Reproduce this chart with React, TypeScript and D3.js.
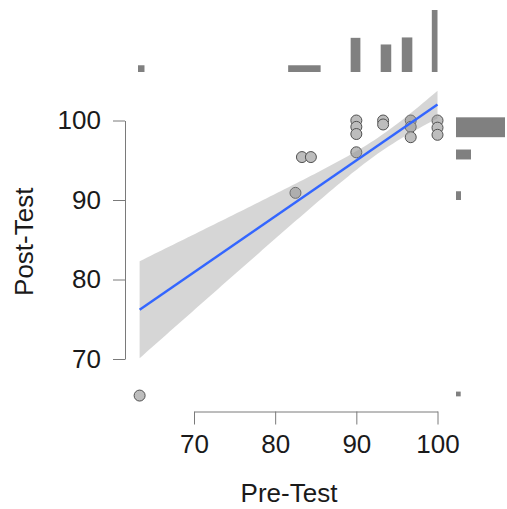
import React, { useEffect, useRef } from 'react';
import * as d3 from 'd3';

// scatter points
const preScores = [63.3, 82.5, 83.3, 84.4, 90, 90, 90, 90, 93.3, 93.3, 96.7, 96.7, 96.7, 100, 100, 100];
const postScores = [65.4, 90.9, 95.4, 95.4, 100, 99.2, 98.3, 96.0, 100, 99.5, 100, 99.2, 97.9, 100, 99.1, 98.2];

// fitted line (ends of the smooth)
const fitX = [63.3, 100];
const fitY = [76.2, 102.0];
// half width of the confidence band: at the left end, and the narrowest point
const bandLeftHalf = 6.1;
const bandMinHalf = 1.0;
const bandMinX = 93;

// marginal histogram on top: [from, to, density]
const topBins: [number, number, number][] = [
  [63.1, 63.9, 0.067],
  [81.6, 85.6, 0.067],
  [89.3, 90.5, 0.34],
  [93.0, 94.3, 0.274],
  [95.6, 96.9, 0.344],
  [99.3, 100.0, 0.617],
];
// marginal histogram on the right: [from, to, density]
const rightBins: [number, number, number][] = [
  [97.9, 100.4, 0.49],
  [95.1, 96.35, 0.15],
  [90.0, 91.1, 0.05],
  [65.3, 65.9, 0.047],
];

const xTicks = [70, 80, 90, 100];
const yTicks = [70, 80, 90, 100];

const W = 507;
const H = 509;
const font = "'Liberation Sans', Arial, Helvetica, sans-serif";

const App = () => {
  const svgRef = useRef<SVGSVGElement>(null);

  useEffect(() => {
    const svg = d3.select(svgRef.current);
    svg.selectAll('*').remove();

    const x = d3.scaleLinear().domain([70, 100]).range([194, 437.5]);
    const y = d3.scaleLinear().domain([70, 100]).range([359, 120.5]);
    const panelTop = 72;
    const panelRight = 453;
    const axisY = 411.5;
    const axisX = 125;

    // top marginal
    const yTop = d3.scaleLinear().domain([0, 0.617]).range([panelTop, 10]);
    svg.append('g')
      .selectAll('rect')
      .data(topBins)
      .enter()
      .append('rect')
      .attr('x', d => x(d[0]))
      .attr('width', d => x(d[1]) - x(d[0]))
      .attr('y', d => yTop(d[2]))
      .attr('height', d => yTop(0) - yTop(d[2]))
      .attr('fill', '#808080');

    // right marginal
    const xRight = d3.scaleLinear().domain([0, 0.49]).range([456, 505]);
    svg.append('g')
      .selectAll('rect')
      .data(rightBins)
      .enter()
      .append('rect')
      .attr('x', xRight(0))
      .attr('width', d => xRight(d[2]) - xRight(0))
      .attr('y', d => y(d[1]))
      .attr('height', d => y(d[0]) - y(d[1]))
      .attr('fill', '#808080');

    // points
    const pts = preScores.map((p, i) => ({ pre: p, post: postScores[i] }));
    svg.append('g')
      .selectAll('circle')
      .data(pts)
      .enter()
      .append('circle')
      .attr('cx', d => x(d.pre))
      .attr('cy', d => y(d.post))
      .attr('r', 5.5)
      .attr('fill', '#bdbdbd')
      .attr('stroke', '#505050')
      .attr('stroke-width', 1);

    // smooth + band
    const slope = (fitY[1] - fitY[0]) / (fitX[1] - fitX[0]);
    const fit = (v: number) => fitY[0] + slope * (v - fitX[0]);
    const k2 = (bandLeftHalf ** 2 - bandMinHalf ** 2) / (fitX[0] - bandMinX) ** 2;
    const half = (v: number) => Math.sqrt(bandMinHalf ** 2 + k2 * (v - bandMinX) ** 2);
    const xs = d3.range(0, 81).map(i => fitX[0] + (fitX[1] - fitX[0]) * i / 80);

    const area = d3.area<number>()
      .x(v => x(v))
      .y0(v => y(fit(v) - half(v)))
      .y1(v => y(fit(v) + half(v)));
    svg.append('path')
      .datum(xs)
      .attr('d', area)
      .attr('fill', '#999999')
      .attr('fill-opacity', 0.4);

    const line = d3.line<number>().x(v => x(v)).y(v => y(fit(v)));
    svg.append('path')
      .datum(fitX)
      .attr('d', line)
      .attr('fill', 'none')
      .attr('stroke', '#3366FF')
      .attr('stroke-width', 2.4);

    // axes (range frame)
    const gx = svg.append('g')
      .attr('transform', `translate(0, ${axisY})`)
      .call(d3.axisBottom(x).tickValues(xTicks).tickSize(13).tickSizeOuter(0).tickPadding(10));
    const gy = svg.append('g')
      .attr('transform', `translate(${axisX}, 0)`)
      .call(d3.axisLeft(y).tickValues(yTicks).tickSize(12).tickSizeOuter(0).tickPadding(12));

    [gx, gy].forEach(g => {
      g.select('.domain').attr('stroke', '#7a7a7a');
      g.selectAll('.tick line').attr('stroke', '#7a7a7a');
      g.selectAll('.tick text')
        .attr('fill', '#1a1a1a')
        .style('font-family', font)
        .style('font-size', '26px');
    });

    svg.append('text')
      .attr('x', (axisX + panelRight) / 2)
      .attr('y', 502)
      .attr('text-anchor', 'middle')
      .style('font-family', font)
      .style('font-size', '26px')
      .attr('fill', '#1a1a1a')
      .text('Pre-Test');

    svg.append('text')
      .attr('transform', `translate(33, ${(panelTop + axisY) / 2}) rotate(-90)`)
      .attr('text-anchor', 'middle')
      .style('font-family', font)
      .style('font-size', '26px')
      .attr('fill', '#1a1a1a')
      .text('Post-Test');
  }, []);

  return (
    <svg
      ref={svgRef}
      width={W}
      height={H}
      style={{ position: 'absolute', left: 0, top: 0, background: '#fff' }}
    />
  );
};

export default App;
